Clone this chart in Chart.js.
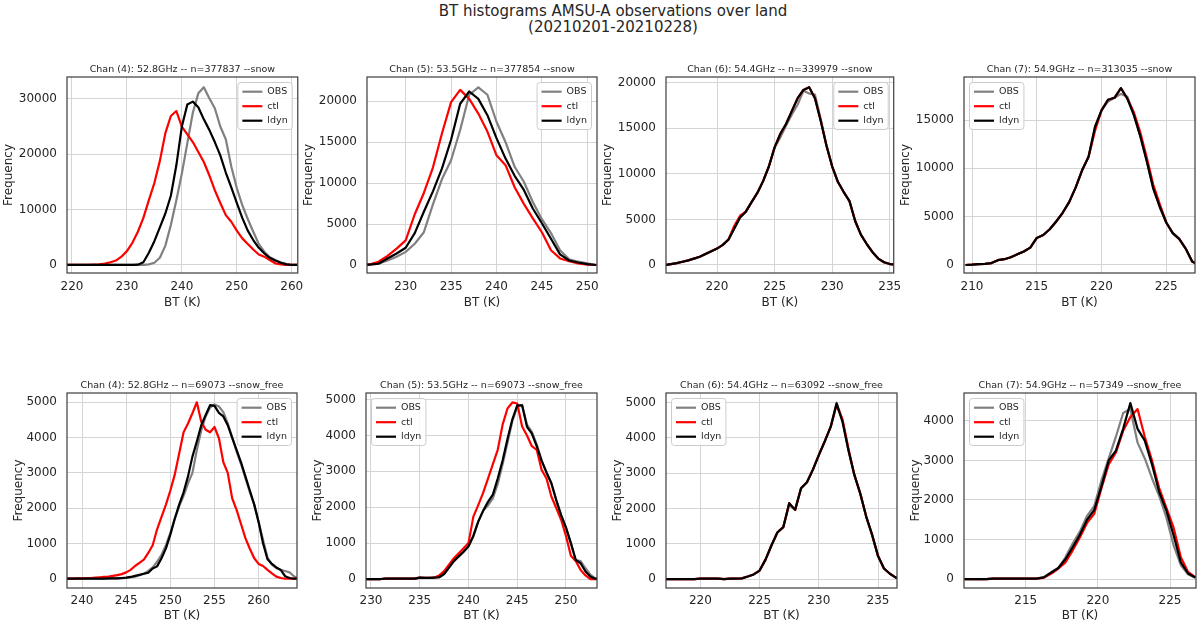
<!DOCTYPE html>
<html><head><meta charset="utf-8">
<script src="https://cdn.jsdelivr.net/npm/chart.js@4.4.1/dist/chart.umd.min.js"></script>
<style>
html,body{margin:0;padding:0;background:#fff;overflow:hidden;width:1200px;height:626px;}
#wrap{position:relative;width:1200px;height:626px;overflow:hidden;}
.suptitle{position:absolute;left:363px;width:500px;top:3px;text-align:center;font-family:"DejaVu Sans",sans-serif;font-size:15px;line-height:16px;color:#262626;}
.panel{position:absolute;}
</style></head><body><div id="wrap">
<div class="suptitle">BT histograms AMSU-A observations over land<br>(20210201-20210228)</div>
</div>
<script>
// ---------------- DATA ----------------
const titles = [
  "Chan (4): 52.8GHz -- n=377837 --snow",
  "Chan (5): 53.5GHz -- n=377854 --snow",
  "Chan (6): 54.4GHz -- n=339979 --snow",
  "Chan (7): 54.9GHz -- n=313035 --snow",
  "Chan (4): 52.8GHz -- n=69073 --snow_free",
  "Chan (5): 53.5GHz -- n=69073 --snow_free",
  "Chan (6): 54.4GHz -- n=63092 --snow_free",
  "Chan (7): 54.9GHz -- n=57349 --snow_free"
];
const seriesNames = ["OBS", "ctl", "ldyn"];

// Panel 1: Chan 4 snow
const p1_bt = [219,220,221,222,223,224,225,226,227,228,229,230,231,232,233,234,235,236,237,238,239,240,241,242,243,244,245,246,247,248,249,250,251,252,253,254,255,256,257,258,259,260,261];
const p1_obs = [0,0,0,0,0,0,0,0,0,0,0,0,0,0,20,100,400,1300,3500,7200,11700,16500,22000,27500,31000,32100,30100,28300,25000,22700,17800,13900,10800,8300,6000,3800,2400,1400,900,500,200,50,0];
const p1_ctl = [0,0,0,0,20,50,100,250,500,800,1500,2500,4000,6000,8500,11700,14800,18800,23800,26900,27800,25000,23600,22200,20400,18600,16200,13500,11200,9000,7800,6200,4800,3800,2800,1900,1500,900,300,100,0,0,0];
const p1_ldyn = [0,0,0,0,0,0,0,0,0,0,0,0,0,50,500,2200,4300,6800,9300,12500,18000,25000,29000,29500,28500,26300,24400,22200,19800,16700,14000,11200,8500,6200,4500,3100,2100,1300,800,400,100,0,0];
const p1_xlim = [219.1, 261.1];
const p1_ylim = [-1450, 33950];
const p1_xticks = [220,230,240,250,260];
const p1_yticks = [0,10000,20000,30000];

// Panel 2: Chan 5 snow
const p2_bt = [225,226,227,228,229,230,231,232,233,234,235,236,237,238,239,240,241,242,243,244,245,246,247,248,249,250,251];
const p2_obs = [0,50,150,550,1000,1600,2600,4000,7400,10500,12800,16500,20800,21700,20800,17500,15000,12000,10200,7700,5600,3900,1800,700,400,200,0];
const p2_ctl = [0,50,400,1100,2000,3000,6200,8800,11900,16100,19900,21400,20300,18500,16300,13400,12200,9500,7500,5700,4000,1800,800,450,200,50,0];
const p2_ldyn = [0,50,150,800,1400,2100,3900,6500,9000,11800,15300,19700,21200,20300,18300,15500,13000,10900,9200,6900,5100,3200,1300,550,300,100,0];
const p2_xlim = [225.74, 251.07];
const p2_ylim = [-980, 22970];
const p2_xticks = [230,235,240,245,250];
const p2_yticks = [0,5000,10000,15000,20000];

// Panel 3: Chan 6 snow
const p3_bt = [215.5,216,216.5,217,217.5,218,218.5,219,219.5,220,220.5,221,221.5,222,222.5,223,223.5,224,224.5,225,225.5,226,226.5,227,227.5,228,228.5,229,229.5,230,230.5,231,231.5,232,232.5,233,233.5,234,234.5,235,235.5];
const p3_obs = [0,100,200,350,500,700,900,1200,1500,1800,2200,2800,4000,5200,5850,6900,7900,9200,10800,12900,14000,15300,16500,17600,19100,18800,18700,16000,13100,10800,9100,8000,7000,4800,3300,2300,1400,700,300,100,50];
const p3_ctl = [0,100,200,350,500,700,900,1200,1500,1800,2200,2800,4300,5400,5850,6900,7900,9200,10800,12900,14400,15500,16900,18300,19200,19500,18300,15900,13100,10800,9100,8000,7000,4800,3300,2300,1400,700,300,100,50];
const p3_ldyn = [0,100,200,350,500,700,900,1200,1500,1800,2200,2800,4000,5200,5850,6900,7900,9200,10800,12900,14400,15500,16900,18300,19200,19500,18300,15800,13100,10800,9100,8000,7000,4800,3300,2300,1400,700,300,100,50];
const p3_xlim = [215.57, 235.34];
const p3_ylim = [-880, 20620];
const p3_xticks = [220,225,230,235];
const p3_yticks = [0,5000,10000,15000,20000];

// Panel 4: Chan 7 snow
const p4_bt = [209.5,210,210.5,211,211.5,212,212.5,213,213.5,214,214.5,215,215.5,216,216.5,217,217.5,218,218.5,219,219.5,220,220.5,221,221.5,222,222.5,223,223.5,224,224.5,225,225.5,226,226.5,227,227.5];
const p4_obs = [0,30,80,120,200,500,600,800,1100,1400,1800,2800,3100,3700,4500,5400,6500,8000,9800,11200,14300,16000,16900,17300,17700,17400,15500,13300,10700,7900,6000,4400,3300,2700,1700,350,0];
const p4_ctl = [0,30,80,120,200,500,600,800,1100,1400,1800,2800,3100,3700,4500,5400,6500,8000,9800,11200,13900,16000,17100,17300,18300,17200,15800,13700,11100,8300,6300,4400,3300,2700,1700,350,0];
const p4_ldyn = [0,30,80,120,200,500,600,800,1100,1400,1800,2800,3100,3700,4500,5400,6500,8000,9800,11200,14300,16000,17100,17300,18300,17200,15500,13300,10700,7900,6000,4400,3300,2700,1700,350,0];
const p4_xlim = [209.38, 227.22];
const p4_ylim = [-830, 19450];
const p4_xticks = [210,215,220,225];
const p4_yticks = [0,5000,10000,15000];

// Panel 5: Chan 4 snow_free
const p5_bt = [238,238.5,239,239.5,240,240.5,241,241.5,242,242.5,243,243.5,244,244.5,245,245.5,246,246.5,247,247.5,248,248.5,249,249.5,250,250.5,251,251.5,252,252.5,253,253.5,254,254.5,255,255.5,256,256.5,257,257.5,258,258.5,259,259.5,260,260.5,261,261.5,262,262.5,263,263.5,264,264.5];
const p5_obs = [0,0,0,0,0,0,0,0,0,0,0,10,10,10,20,40,60,100,140,220,320,480,680,950,1300,1700,2050,2350,2700,3000,3650,4200,4600,4850,4940,4880,4720,4400,4000,3600,3250,2850,2450,2100,1600,1100,600,400,300,250,220,180,70,0];
const p5_ctl = [0,0,0,10,10,20,20,30,40,50,60,80,100,130,180,250,360,450,540,730,950,1400,1750,2100,2500,2950,3550,4150,4400,4690,5000,4450,4220,4150,4300,3980,3300,3000,2280,1950,1550,1150,850,580,420,360,250,150,60,20,0,0,0,0];
const p5_ldyn = [0,0,0,0,0,0,0,0,0,0,10,10,10,20,30,50,80,110,140,170,290,350,580,860,1250,1700,2100,2450,2900,3460,3890,4350,4640,4920,4900,4700,4600,4350,4000,3650,3300,2900,2500,2100,1600,1000,550,420,320,250,70,20,0,0];
const p5_xlim = [238.3, 264.34];
const p5_ylim = [-263, 5263];
const p5_xticks = [240,245,250,255,260];
const p5_yticks = [0,1000,2000,3000,4000,5000];

// Panel 6: Chan 5 snow_free
const p6_bt = [229.5,230,230.5,231,231.5,232,232.5,233,233.5,234,234.5,235,235.5,236,236.5,237,237.5,238,238.5,239,239.5,240,240.5,241,241.5,242,242.5,243,243.5,244,244.5,245,245.5,246,246.5,247,247.5,248,248.5,249,249.5,250,250.5,251,251.5,252,252.5,253,253.5];
const p6_obs = [0,0,0,0,10,10,10,10,10,10,10,40,30,30,40,50,140,320,500,630,760,910,1200,1600,1900,2050,2250,2650,3200,3800,4400,4800,4850,4300,4100,3750,3300,2970,2670,2200,1780,1430,1000,530,500,300,120,20,0];
const p6_ctl = [0,0,0,0,10,10,10,10,10,10,10,40,30,30,40,100,220,400,580,720,860,1000,1740,2060,2400,2800,3200,3600,4300,4750,4920,4890,4250,4000,3700,3600,3040,2800,2300,1980,1650,1200,650,500,250,100,0,0,0];
const p6_ldyn = [0,0,0,0,10,10,10,10,10,10,10,40,30,30,40,50,140,320,500,630,760,910,1200,1600,1900,2150,2350,2800,3300,3900,4450,4840,4840,4240,4050,3700,3300,2970,2670,2200,1780,1430,1000,530,440,210,70,10,0];
const p6_xlim = [229.49, 253.18];
const p6_ylim = [-250, 5183];
const p6_xticks = [230,235,240,245,250];
const p6_yticks = [0,1000,2000,3000,4000,5000];

// Panel 7: Chan 6 snow_free
const p7_bt = [217,217.5,218,218.5,219,219.5,220,220.5,221,221.5,222,222.5,223,223.5,224,224.5,225,225.5,226,226.5,227,227.5,228,228.5,229,229.5,230,230.5,231,231.5,232,232.5,233,233.5,234,234.5,235,235.5,236,236.5,237];
const p7_obs = [0,0,0,0,0,0,10,10,10,10,0,10,10,20,70,130,240,550,950,1320,1470,2100,1960,2570,2740,3100,3510,3900,4310,5000,4500,3650,2950,2420,1770,1250,650,300,150,40,0];
const p7_ctl = [0,0,0,0,0,0,10,10,10,10,0,10,10,20,70,130,240,550,950,1320,1470,2150,1960,2570,2740,3100,3510,3900,4310,4930,4520,3700,2950,2420,1770,1250,650,300,150,40,0];
const p7_ldyn = [0,0,0,0,0,0,10,10,10,10,0,10,10,20,70,130,240,550,950,1320,1470,2150,1960,2570,2740,3100,3510,3900,4310,4970,4450,3650,2950,2420,1770,1250,650,300,150,40,0];
const p7_xlim = [217.1, 236.6];
const p7_ylim = [-254, 5271];
const p7_xticks = [220,225,230,235];
const p7_yticks = [0,1000,2000,3000,4000,5000];

// Panel 8: Chan 7 snow_free
const p8_bt = [210.75,211.25,211.75,212.25,212.75,213.25,213.75,214.25,214.75,215.25,215.75,216.25,216.75,217.25,217.75,218.25,218.75,219.25,219.75,220.25,220.75,221.25,221.75,222.25,222.75,223.25,223.75,224.25,224.75,225.25,225.75,226.25,226.75];
const p8_obs = [0,0,0,0,10,10,10,10,10,10,10,50,170,270,550,900,1200,1600,1850,2500,3050,3600,4200,4300,3450,3050,2550,2100,1550,850,350,120,30];
const p8_ctl = [0,0,0,0,10,10,10,10,10,10,10,30,130,260,420,720,1050,1420,1650,2300,2900,3200,3750,4100,4300,3600,3000,2300,1800,1300,550,180,50];
const p8_ldyn = [0,0,0,0,10,10,10,10,10,10,10,40,160,280,500,800,1120,1500,1750,2350,3000,3250,3800,4450,3800,3500,2900,2200,1730,1100,420,140,40];
const p8_xlim = [210.72, 226.8];
const p8_ylim = [-227, 4706];
const p8_xticks = [215,220,225];
const p8_yticks = [0,1000,2000,3000,4000];

// ---------------- LAYOUT / STYLE ----------------
const seriesColors = ["#808080", "#ff0000", "#000000"];
const seriesOrder = [3, 2, 1];
const rowGeom = [
  {T: 77, B: 273, tickPad: 6.5, xTitlePadB: 3.3, yTitlePadT: 1},
  {T: 393, B: 588, tickPad: 5.6, xTitlePadB: 4.8, yTitlePadT: 11}
];
const panelGeom = [
  {L: 67, R: 298, row: 0, legend: "right"},
  {L: 367, R: 597, row: 0, legend: "right"},
  {L: 666, R: 896, row: 0, legend: "right"},
  {L: 964, R: 1195, row: 0, legend: "left"},
  {L: 67, R: 297, row: 1, legend: "right"},
  {L: 366, R: 597, row: 1, legend: "left"},
  {L: 666, R: 897, row: 1, legend: "left"},
  {L: 964, R: 1196, row: 1, legend: "left"}
];
const YAXIS_W = 66, TITLE_H = 20, XAXIS_H = 40, PAD_R = 12;
const FONT = "'DejaVu Sans', sans-serif";
const TEXT = "#262626";
const GRID = "#d5d5d5";

const panels = [
  [p1_bt, p1_obs, p1_ctl, p1_ldyn, p1_xlim, p1_ylim, p1_xticks, p1_yticks],
  [p2_bt, p2_obs, p2_ctl, p2_ldyn, p2_xlim, p2_ylim, p2_xticks, p2_yticks],
  [p3_bt, p3_obs, p3_ctl, p3_ldyn, p3_xlim, p3_ylim, p3_xticks, p3_yticks],
  [p4_bt, p4_obs, p4_ctl, p4_ldyn, p4_xlim, p4_ylim, p4_xticks, p4_yticks],
  [p5_bt, p5_obs, p5_ctl, p5_ldyn, p5_xlim, p5_ylim, p5_xticks, p5_yticks],
  [p6_bt, p6_obs, p6_ctl, p6_ldyn, p6_xlim, p6_ylim, p6_xticks, p6_yticks],
  [p7_bt, p7_obs, p7_ctl, p7_ldyn, p7_xlim, p7_ylim, p7_xticks, p7_yticks],
  [p8_bt, p8_obs, p8_ctl, p8_ldyn, p8_xlim, p8_ylim, p8_xticks, p8_yticks]
];

Chart.defaults.font.family = FONT;
Chart.defaults.color = TEXT;

function roundRectPath(ctx, x, y, w, h, r) {
  ctx.beginPath();
  ctx.moveTo(x + r, y);
  ctx.lineTo(x + w - r, y);
  ctx.arcTo(x + w, y, x + w, y + r, r);
  ctx.lineTo(x + w, y + h - r);
  ctx.arcTo(x + w, y + h, x + w - r, y + h, r);
  ctx.lineTo(x + r, y + h);
  ctx.arcTo(x, y + h, x, y + h - r, r);
  ctx.lineTo(x, y + r);
  ctx.arcTo(x, y, x + r, y, r);
  ctx.closePath();
}

const boxLegend = {
  id: "boxLegend",
  afterDatasetsDraw(chart, args, opts) {
    const {ctx, chartArea: a} = chart;
    const items = chart.data.datasets;
    ctx.save();
    ctx.font = "9.5px " + FONT;
    const tw = Math.max(...items.map(d => ctx.measureText(d.label).width));
    const w = 29.5 + tw + 4.6, h = 47;
    const x = opts.side === "left" ? a.left + 5.5 : a.right - 5.5 - w;
    const y = a.top + 5.5;
    roundRectPath(ctx, x, y, w, h, 3);
    ctx.fillStyle = "rgba(255,255,255,0.85)";
    ctx.fill();
    ctx.strokeStyle = "#cccccc";
    ctx.lineWidth = 1;
    ctx.stroke();
    items.forEach((d, i) => {
      const cy = y + 9.2 + i * 14.5;
      ctx.strokeStyle = d.borderColor;
      ctx.lineWidth = 2.2;
      ctx.beginPath();
      ctx.moveTo(x + 4.5, cy);
      ctx.lineTo(x + 24.5, cy);
      ctx.stroke();
      ctx.fillStyle = TEXT;
      ctx.textBaseline = "middle";
      ctx.textAlign = "left";
      ctx.fillText(d.label, x + 29.5, cy);
    });
    ctx.restore();
  }
};

const frame = {
  id: "frame",
  afterDraw(chart) {
    const {ctx, chartArea: a} = chart;
    ctx.save();
    ctx.strokeStyle = "#3c3c3c";
    ctx.lineWidth = 1.2;
    ctx.strokeRect(a.left, a.top, a.right - a.left, a.bottom - a.top);
    ctx.restore();
  }
};

const wrap = document.getElementById("wrap");
panels.forEach((p, k) => {
  const [bt, obs, ctl, ldyn, xlim, ylim, xticks, yticks] = p;
  const g = panelGeom[k], r = rowGeom[g.row];
  const div = document.createElement("div");
  div.className = "panel";
  const W = YAXIS_W + (g.R - g.L) + PAD_R;
  const H = TITLE_H + (r.B - r.T) + XAXIS_H;
  div.style.left = (g.L - YAXIS_W) + "px";
  div.style.top = (r.T - TITLE_H) + "px";
  div.style.width = W + "px";
  div.style.height = H + "px";
  const cv = document.createElement("canvas");
  div.appendChild(cv);
  wrap.appendChild(div);

  const series = [obs, ctl, ldyn];
  const datasets = series.map((ys, i) => ({
    label: seriesNames[i],
    data: bt.map((x, j) => ({x: x, y: ys[j]})),
    borderColor: seriesColors[i],
    backgroundColor: seriesColors[i],
    borderWidth: 2.2,
    pointRadius: 0,
    tension: 0,
    fill: false,
    order: seriesOrder[i],
    borderJoinStyle: "round"
  }));

  new Chart(cv, {
    type: "line",
    data: {datasets},
    plugins: [boxLegend, frame],
    options: {
      responsive: true,
      maintainAspectRatio: false,
      animation: false,
      events: [],
      layout: {padding: {left: 0, right: PAD_R, top: 0, bottom: 0}},
      plugins: {
        legend: {display: false},
        tooltip: {enabled: false},
        title: {
          display: true, text: titles[k], fullSize: false,
          font: {size: 9.5, weight: "normal"}, color: TEXT,
          padding: {top: 7, bottom: 1.6}
        },
        boxLegend: {side: g.legend}
      },
      scales: {
        x: {
          type: "linear", min: xlim[0], max: xlim[1],
          afterBuildTicks: s => { s.ticks = xticks.map(v => ({value: v})); },
          afterFit: s => { s.height = XAXIS_H; },
          grid: {color: GRID, lineWidth: 1, drawTicks: false},
          border: {display: false},
          ticks: {padding: r.tickPad, font: {size: 12}, color: TEXT, maxRotation: 0, autoSkip: false, callback: v => String(v)},
          title: {display: true, text: "BT (K)", font: {size: 12}, color: TEXT, padding: {top: 0, bottom: r.xTitlePadB}}
        },
        y: {
          type: "linear", min: ylim[0], max: ylim[1],
          afterBuildTicks: s => { s.ticks = yticks.map(v => ({value: v})); },
          afterFit: s => { s.width = YAXIS_W; },
          grid: {color: GRID, lineWidth: 1, drawTicks: false},
          border: {display: false},
          ticks: {padding: 10, font: {size: 12}, color: TEXT, autoSkip: false, callback: v => String(v)},
          title: {display: true, text: "Frequency", font: {size: 12}, color: TEXT, padding: {top: r.yTitlePadT, bottom: 0}}
        }
      }
    }
  });
});
</script></body></html>
